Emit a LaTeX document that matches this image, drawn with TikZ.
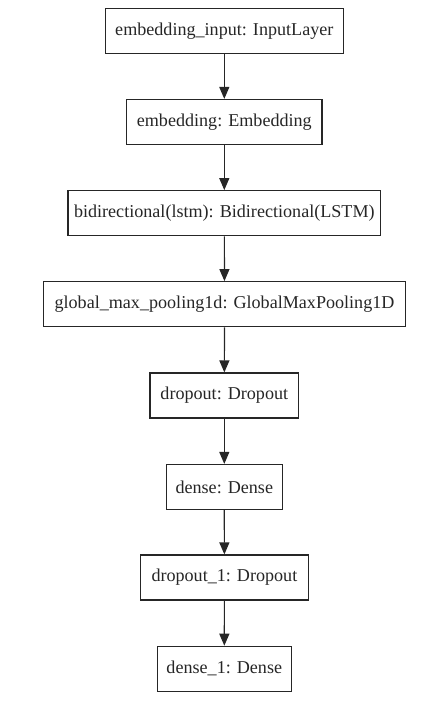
\documentclass[tikz,border=0pt]{standalone}
\usepackage{fontspec}
\setmainfont{Liberation Serif}
\usetikzlibrary{arrows.meta}
\begin{document}
\begin{tikzpicture}[x=1pt,y=-1pt,
  layer/.style={draw=black!85, line width=1.2pt, inner sep=0pt, minimum height=45pt,
    font=\fontsize{18.1pt}{21pt}\selectfont, text=black!85},
  flow/.style={draw=black!85, line width=1.2pt, -{Triangle[length=12pt,width=10pt]}}]
\useasboundingbox (0,0) rectangle (435,707);
\node[layer, minimum width=238pt]   (n1) at (224.3,30.8)  {embedding\_input: InputLayer};
\node[layer, minimum width=195.3pt] (n2) at (224.3,122)   {embedding: Embedding};
\node[layer, minimum width=312.7pt] (n3) at (224.3,213.2) {bidirectional(lstm): Bidirectional(LSTM)};
\node[layer, minimum width=362.7pt] (n4) at (224.5,304.2) {global\_max\_pooling1d: GlobalMaxPooling1D};
\node[layer, minimum width=148.7pt] (n5) at (224.3,395.5) {dropout: Dropout};
\node[layer, minimum width=115.7pt] (n6) at (224.3,487)   {dense: Dense};
\node[layer, minimum width=167.6pt] (n7) at (224.4,577.5) {dropout\_1: Dropout};
\node[layer, minimum width=134pt]   (n8) at (224.3,668.8) {dense\_1: Dense};
\foreach \a/\b in {n1/n2,n2/n3,n3/n4,n4/n5,n5/n6,n6/n7,n7/n8}
  \draw[flow] (\a) -- (\b);
\end{tikzpicture}
\end{document}
